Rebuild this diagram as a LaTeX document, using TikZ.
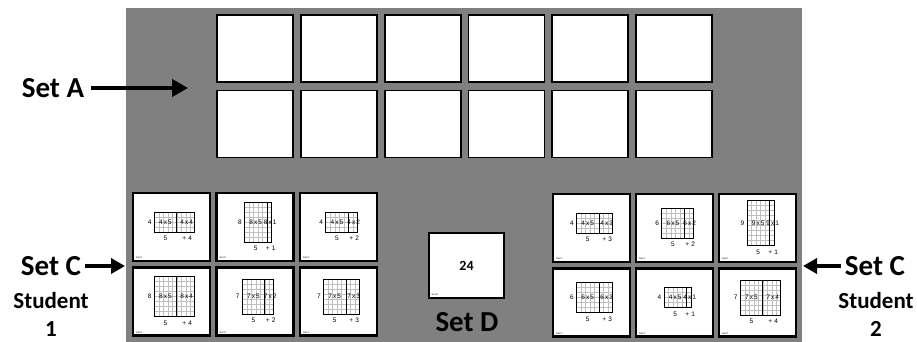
\documentclass[tikz,border=0pt]{standalone}
\usepackage{fontspec}
\setmainfont{Carlito}
\newfontfamily\cardfont{Liberation Sans}
\usetikzlibrary{arrows.meta,positioning,calc}

% area model drawn on a card: card, rows, extra columns
\newcommand{\areamodel}[3]{%
  \pgfmathsetmacro{\amw}{(5+#3)*4.5}%
  \pgfmathsetmacro{\amh}{#2*5}%
  \pgfmathtruncatemacro{\amc}{4+#3}%
  \pgfmathtruncatemacro{\amr}{#2-1}%
  \begin{scope}[shift={(#1.center)}]
    \begin{scope}[shift={({-\amw/2+3},{-\amh/2+5})}]
      \foreach \i in {1,...,\amc} \draw[gridln] (\i*4.5,0) -- (\i*4.5,\amh);
      \foreach \j in {1,...,\amr} \draw[gridln] (0,\j*5) -- (\amw,\j*5);
      \draw[line width=0.6pt] (0,0) rectangle (\amw,\amh);
      \draw[line width=0.9pt] (22.5,0) -- (22.5,\amh);
      \node[amlbl, anchor=east] (#1-side) at (-2.5,\amh/2) {#2};
      \node[amlbl] (#1-five) at (11.25,\amh/2) {#2\,x\,5};
      \node[amlbl] (#1-part) at ({22.5+#3*2.25+1},\amh/2) {#2\,x\,#3};
      \node[amlbl] (#1-bfive) at (11.25,-6.5) {5};
      \node[amlbl] (#1-bpart) at ({24+#3*2.25},-6.5) {+\,\,#3};
    \end{scope}
    \node[settag] (#1-tag) at (-35.5,-32) {Set C};
  \end{scope}}

\begin{document}
\begin{tikzpicture}[
    x=1pt, y=1pt,
    node distance=8.5pt and 7.8pt,
    cardA/.style={
        draw, line width=1.8pt, fill=white, inner sep=0pt, outer sep=0pt,
        minimum width=76pt, minimum height=67pt
    },
    minicard/.style={
        draw, line width=2.4pt, fill=white, inner sep=0pt, outer sep=0pt,
        minimum width=77pt, minimum height=68pt
    },
    gridln/.style={gray!50, line width=0.35pt},
    amlbl/.style={font=\cardfont\fontsize{6.5}{7}\selectfont, inner sep=0pt},
    settag/.style={font=\cardfont\fontsize{2.5}{3}\selectfont, inner sep=0pt, anchor=south west},
    setlbl/.style={font=\bfseries\fontsize{29}{32}\selectfont, inner sep=1pt},
    studlbl/.style={font=\bfseries\fontsize{23}{26}\selectfont, inner sep=0pt},
    bigarr/.style={-{Triangle[length=16pt,width=17pt]}, line width=4pt, shorten <=6pt},
    smallarr/.style={-{Triangle[length=14pt,width=15pt]}, line width=3.5pt, shorten <=3pt},
]
\useasboundingbox (0,0) rectangle (917,342);
\fill[gray] (126,0) rectangle (802,334);

% Set A: two empty rows
\node[cardA] (a1) at (255,293.5) {};
\node[cardA, right=of a1] (a2) {};
\node[cardA, right=of a2] (a3) {};
\node[cardA, right=of a3] (a4) {};
\node[cardA, right=of a4] (a5) {};
\node[cardA, right=of a5] (a6) {};
\node[cardA, below=of a1] (b1) {};
\node[cardA, right=of b1] (b2) {};
\node[cardA, right=of b2] (b3) {};
\node[cardA, right=of b3] (b4) {};
\node[cardA, right=of b4] (b5) {};
\node[cardA, right=of b5] (b6) {};

% Set C: student 1
\node[minicard] (l1) at (171.5,115) {};
\node[minicard, right=6.5pt of l1] (l2) {};
\node[minicard, right=6.5pt of l2] (l3) {};
\node[minicard, below=6.5pt of l1] (l4) {};
\node[minicard, right=6.5pt of l4] (l5) {};
\node[minicard, right=6.5pt of l5] (l6) {};
\areamodel{l1}{4}{4}
\areamodel{l2}{8}{1}
\areamodel{l3}{4}{2}
\areamodel{l4}{8}{4}
\areamodel{l5}{7}{2}
\areamodel{l6}{7}{3}

% Set C: student 2
\node[minicard] (r1) at (591.5,114) {};
\node[minicard, right=6pt of r1] (r2) {};
\node[minicard, right=6pt of r2] (r3) {};
\node[minicard, below=6.5pt of r1] (r4) {};
\node[minicard, right=6pt of r4] (r5) {};
\node[minicard, right=6pt of r5] (r6) {};
\areamodel{r1}{4}{3}
\areamodel{r2}{6}{2}
\areamodel{r3}{9}{1}
\areamodel{r4}{6}{3}
\areamodel{r5}{4}{1}
\areamodel{r6}{7}{4}

% Set D
\node[minicard, line width=1.5pt, minimum width=75pt, minimum height=65pt,
      font=\bfseries\fontsize{14}{16}\selectfont] (dcard) at (466.5,76.5) {24};
\node[settag] (dtag) at ($(dcard.south west)+(2.5,2.5)$) {Set D};
\node[setlbl] (setD) at (467,20) {Set D};

% labels and arrows
\node[setlbl] (setA) at (53,254) {Set A};
\coordinate (aend) at (188,254);
\draw[bigarr] (setA) -- (aend);

\node[setlbl] (setCone) at (51,76) {Set C};
\node[studlbl] (studone) at (51,41) {Student};
\node[studlbl] (numone) at (51,13) {1};
\coordinate (cone) at (125,76);
\draw[smallarr] (setCone) -- (cone);

\node[setlbl] (setCtwo) at (875,76) {Set C};
\node[studlbl] (studtwo) at (876,41) {Student};
\node[studlbl] (numtwo) at (876,13) {2};
\coordinate (ctwo) at (803,76);
\draw[smallarr] (setCtwo) -- (ctwo);
\end{tikzpicture}
\end{document}
